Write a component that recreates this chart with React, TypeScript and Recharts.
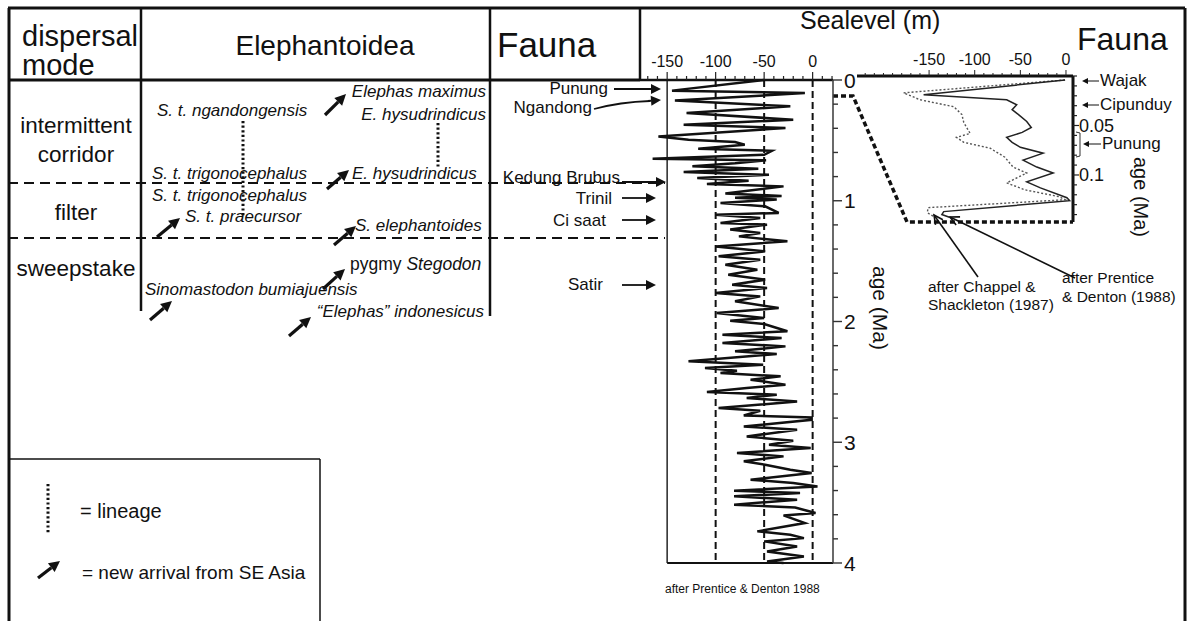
import React from "react"
import { ScatterChart, Scatter, XAxis, YAxis, ReferenceLine } from "recharts"

const FONT = '"Liberation Sans", Arial, Helvetica, sans-serif'

// main curve (after Prentice & Denton 1988): age in Ma, sea level in m
const MAIN_AGE = [
  0, 0.088, 0.108, 0.17, 0.218, 0.273, 0.329, 0.37, 0.398, 0.467,
  0.494, 0.514, 0.536, 0.569, 0.586, 0.62, 0.652, 0.664, 0.69, 0.715,
  0.735, 0.762, 0.785, 0.812, 0.834, 0.862, 0.881, 0.94, 0.96, 0.975, 0.99,
  1.018, 1.046, 1.101, 1.115, 1.143, 1.184, 1.198, 1.239, 1.267, 1.295,
  1.336, 1.378, 1.419, 1.46, 1.488, 1.53, 1.571, 1.612, 1.654, 1.695,
  1.723, 1.764, 1.792, 1.833, 1.889, 1.93, 1.971,
  1.993, 2.021, 2.081, 2.109, 2.137, 2.178, 2.206, 2.247, 2.269, 2.33,
  2.358, 2.385, 2.407, 2.427, 2.454, 2.482, 2.523, 2.551, 2.584, 2.606,
  2.634, 2.662, 2.717, 2.739, 2.778, 2.794, 2.814, 2.869, 2.896, 2.952, 2.988,
  3.02, 3.048, 3.089, 3.117, 3.158, 3.186, 3.227, 3.255, 3.31, 3.338,
  3.366, 3.401, 3.421, 3.448, 3.476, 3.517, 3.54, 3.586, 3.606, 3.669,
  3.738, 3.766, 3.794, 3.821, 3.863, 3.904, 3.946, 3.987, 4.0,
]
const MAIN_SEALEVEL = [
  -50, -145, -8, -142, -23, -130, -20, -133, -28, -159,
  -128, -80, -70, -118, -42, -50, -165, -48, -80, -124,
  -56, -133, -45, -119, -66, -109, -30, -90, -32, -80, -37,
  -95, -49, -35, -100, -54, -95, -47, -85, -54, -76,
  -26, -100, -49, -97, -54, -90, -57, -87, -49, -83,
  -47, -100, -54, -80, -35, -99, -50,
  -85, -50, -26, -93, -32, -93, -28, -80, -37, -128,
  -51, -111, -78, -95, -33, -64, -28, -68, -109, -37,
  -68, -16, -97, -54, -71, -1, -1, -71, -16, -68, -20,
  -45, -2, -78, -30, -71, -49, -23, -1, -64, -20,
  5, -81, -13, -81, -16, -81, -18, 3, -30, -8,
  -57, -23, -9, -50, -16, -47, -9, -47, -30,
]

// inset, last glacial cycle: solid = Prentice & Denton (1988)
const INSET_PD_AGE = [
  0.004, 0.019, 0.024, 0.029, 0.034, 0.039, 0.046, 0.052, 0.057, 0.062, 0.067, 0.072,
  0.078, 0.085, 0.092, 0.098, 0.107, 0.113, 0.123, 0.126, 0.137, 0.14, 0.143,
]
const INSET_PD_SEALEVEL = [
  -1, -156, -65, -54, -59, -52, -43, -38, -48, -65, -59, -50,
  -25, -47, -32, -14, -43, -28, 1, 4, -134, -136, -127,
]
// dotted = Chappel & Shackleton (1987)
const INSET_CS_AGE = [
  0.004, 0.017, 0.024, 0.031, 0.039, 0.047, 0.058, 0.062, 0.067, 0.073,
  0.082, 0.092, 0.098, 0.108, 0.115, 0.122, 0.125, 0.133, 0.138, 0.142,
]
const INSET_CS_SEALEVEL = [
  -1, -178, -160, -123, -114, -112, -105, -120, -112, -83,
  -67, -58, -43, -65, -45, -7, -1, -151, -152, -145,
]

const MAIN_X_TICKS = [-170, -160, -150, -140, -130, -120, -110, -100, -90, -80, -70, -60, -50, -40, -30, -20, -10, 0, 10, 20]
const MAIN_X_LABELS = [-150, -100, -50, 0]
const MAIN_Y_TICKS = [0, 0.2, 0.4, 0.6, 0.8, 1, 1.2, 1.4, 1.6, 1.8, 2, 2.2, 2.4, 2.6, 2.8, 3, 3.2, 3.4, 3.6, 3.8, 4]
const INSET_X_TICKS = [-220, -210, -200, -190, -180, -170, -160, -150, -140, -130, -120, -110, -100, -90, -80, -70, -60, -50, -40, -30, -20, -10, 0]
const INSET_X_LABELS = [-150, -100, -50, 0]
const INSET_Y_TICKS = [0, 0.01, 0.02, 0.03, 0.04, 0.05, 0.06, 0.07, 0.08, 0.09, 0.1, 0.11, 0.12, 0.13, 0.14]
const INSET_Y_LABELS = [0.05, 0.1]

const mainData = MAIN_AGE.map((age, i) => ({ age, sl: MAIN_SEALEVEL[i] }))
const pdData = INSET_PD_AGE.map((age, i) => ({ age, sl: INSET_PD_SEALEVEL[i] }))
const csData = INSET_CS_AGE.map((age, i) => ({ age, sl: INSET_CS_SEALEVEL[i] }))

const isIn = (list: number[], v: number) => list.some((l) => Math.abs(l - v) < 1e-6)
const noDot = () => <g />

function MainXTick({ x, y, payload }: any) {
  const major = isIn(MAIN_X_LABELS, payload.value)
  return (
    <g>
      <line x1={x} x2={x} y1={y} y2={y - (major ? 8 : 4)} stroke="#222" strokeWidth={1.2} />
      {major && (
        <text x={x} y={y - 13} textAnchor="middle" fontSize={16} fontFamily={FONT} fill="#111">
          {payload.value}
        </text>
      )}
    </g>
  )
}

function MainYTick({ x, y, payload }: any) {
  const major = Math.abs(payload.value - Math.round(payload.value)) < 1e-6
  return (
    <g>
      <line x1={x} x2={x + (major ? 9 : 5)} y1={y} y2={y} stroke="#333" strokeWidth={1.4} />
      {major && (
        <text x={x + 11} y={y} dy="0.36em" fontSize={21} fontFamily={FONT} fill="#111">
          {payload.value}
        </text>
      )}
    </g>
  )
}

function InsetXTick({ x, y, payload }: any) {
  const major = isIn(INSET_X_LABELS, payload.value)
  return (
    <g>
      <line x1={x} x2={x} y1={y} y2={y - (major ? 6 : 3)} stroke="#222" strokeWidth={1} />
      {major && (
        <text x={x} y={y - 11} textAnchor="middle" fontSize={16} fontFamily={FONT} fill="#111">
          {payload.value}
        </text>
      )}
    </g>
  )
}

function InsetYTick({ x, y, payload }: any) {
  const major = isIn(INSET_Y_LABELS, payload.value)
  return (
    <g>
      <line x1={x} x2={x + (major ? 6 : 4)} y1={y} y2={y} stroke="#222" strokeWidth={1.2} />
      {major && (
        <text x={x + 6} y={y} dy="0.36em" fontSize={18} fontFamily={FONT} fill="#111">
          {payload.value}
        </text>
      )}
    </g>
  )
}

function Arrow({ x1, y1, x2, y2, w = 3.2, head = 11, open = false }: any) {
  const a = Math.atan2(y2 - y1, x2 - x1)
  const bx = x2 - head * Math.cos(a)
  const by = y2 - head * Math.sin(a)
  const hw = head * 0.5
  const lx = bx - hw * Math.sin(a)
  const ly = by + hw * Math.cos(a)
  const rx = bx + hw * Math.sin(a)
  const ry = by - hw * Math.cos(a)
  if (open) {
    return (
      <g stroke="#111" strokeWidth={w} fill="none">
        <line x1={x1} y1={y1} x2={x2} y2={y2} />
        <polyline points={`${lx},${ly} ${x2},${y2} ${rx},${ry}`} />
      </g>
    )
  }
  return (
    <g>
      <line x1={x1} y1={y1} x2={bx} y2={by} stroke="#111" strokeWidth={w} />
      <polygon points={`${x2},${y2} ${lx},${ly} ${rx},${ry}`} fill="#111" />
    </g>
  )
}

function Species({ x, y, anchor = "start", children }: any) {
  return (
    <text x={x} y={y} textAnchor={anchor} fontSize={17} fontStyle="italic" fontFamily={FONT} fill="#111">
      {children}
    </text>
  )
}

function FaunaLabel({ x, y, children, size = 17 }: any) {
  return (
    <text x={x} y={y} textAnchor="end" fontSize={size} fontFamily={FONT} fill="#111">
      {children}
    </text>
  )
}

function Overlay() {
  const dashed = { stroke: "#111", strokeWidth: 1.8, strokeDasharray: "10 6" }
  return (
    <svg width={1189} height={621} style={{ position: "absolute", left: 0, top: 0 }} fontFamily={FONT}>
      {/* frame and columns */}
      <g stroke="#111" fill="none">
        <line x1={8} y1={8} x2={1185} y2={8} strokeWidth={3} />
        <line x1={9} y1={8} x2={9} y2={621} strokeWidth={3} />
        <line x1={1185} y1={8} x2={1185} y2={621} strokeWidth={3} />
        <line x1={8} y1={80} x2={640} y2={80} strokeWidth={3} />
        <line x1={141} y1={8} x2={141} y2={311} strokeWidth={2.5} />
        <line x1={490} y1={8} x2={490} y2={316} strokeWidth={2.5} />
        <line x1={640} y1={8} x2={640} y2={80} strokeWidth={2.5} />
        <line x1={8} y1={183} x2={665} y2={183} {...dashed} />
        <line x1={8} y1={238} x2={665} y2={238} {...dashed} />
        <line x1={8} y1={459} x2={320} y2={459} strokeWidth={1.5} />
        <line x1={320} y1={459} x2={320} y2={621} strokeWidth={1.5} />
      </g>

      {/* headers */}
      <text x={22} y={46} fontSize={29} fill="#111">dispersal</text>
      <text x={22} y={75} fontSize={29} fill="#111">mode</text>
      <text x={325} y={55} fontSize={28} textAnchor="middle" fill="#111">Elephantoidea</text>
      <text x={497} y={57} fontSize={35} fill="#111">Fauna</text>
      <text x={800} y={29} fontSize={25} fill="#111">Sealevel (m)</text>
      <text x={1077} y={50} fontSize={32} fill="#111">Fauna</text>

      {/* dispersal modes */}
      <g fontSize={22.5} fill="#111" textAnchor="middle">
        <text x={76} y={133}>intermittent</text>
        <text x={76} y={162}>corridor</text>
        <text x={76} y={220}>filter</text>
        <text x={76} y={276}>sweepstake</text>
      </g>

      {/* Elephantoidea */}
      <Species x={486} y={97} anchor="end">Elephas maximus</Species>
      <Species x={157} y={116}>S. t. ngandongensis</Species>
      <Species x={486} y={120} anchor="end">E. hysudrindicus</Species>
      <Species x={152} y={179}>S. t. trigonocephalus</Species>
      <Species x={352} y={179}>E. hysudrindicus</Species>
      <Species x={152} y={201}>S. t. trigonocephalus</Species>
      <Species x={185} y={222}>S. t. praecursor</Species>
      <Species x={355} y={231}>S. elephantoides</Species>
      <text x={350} y={270} fontSize={17.5} fontFamily={FONT} fill="#111">
        pygmy <tspan fontStyle="italic">Stegodon</tspan>
      </text>
      <Species x={145} y={295}>Sinomastodon bumiajuensis</Species>
      <Species x={484} y={317} anchor="end">“Elephas” indonesicus</Species>

      {/* lineages */}
      <g stroke="#111" strokeWidth={3} strokeDasharray="2.2 2.4">
        <line x1={243} y1={121} x2={243} y2={216} />
        <line x1={438} y1={123} x2={438} y2={168} />
        <line x1={48} y1={484} x2={48} y2={534} />
      </g>

      {/* new arrivals */}
      <Arrow x1={325} y1={115} x2={346} y2={94} />
      <Arrow x1={327} y1={189} x2={349} y2={170} />
      <Arrow x1={157} y1={237} x2={180} y2={218} />
      <Arrow x1={334} y1={245} x2={356} y2={226} />
      <Arrow x1={323} y1={289} x2={345} y2={269} />
      <Arrow x1={150} y1={320} x2={172} y2={301} />
      <Arrow x1={289} y1={336} x2={311} y2={317} />
      <Arrow x1={38} y1={578} x2={60} y2={561} />

      {/* legend */}
      <text x={80} y={518} fontSize={20} fill="#111">= lineage</text>
      <text x={82} y={579} fontSize={19} fill="#111">= new arrival from SE Asia</text>

      {/* fauna, main column */}
      <FaunaLabel x={608} y={94}>Punung</FaunaLabel>
      <Arrow x1={614} y1={89} x2={661} y2={89} w={1.8} head={10} />
      <FaunaLabel x={592} y={113}>Ngandong</FaunaLabel>
      <path d="M594 109 Q620 102 650 101" stroke="#111" strokeWidth={1.8} fill="none" />
      <Arrow x1={648} y1={101} x2={661} y2={100} w={1.8} head={10} />
      <FaunaLabel x={620} y={183}>Kedung Brubus</FaunaLabel>
      <Arrow x1={622} y1={182} x2={666} y2={182} w={1.8} head={10} />
      <FaunaLabel x={612} y={204}>Trinil</FaunaLabel>
      <Arrow x1={622} y1={198} x2={656} y2={198} w={1.8} head={10} />
      <FaunaLabel x={606} y={226}>Ci saat</FaunaLabel>
      <Arrow x1={622} y1={220} x2={656} y2={220} w={1.8} head={10} />
      <FaunaLabel x={603} y={290}>Satir</FaunaLabel>
      <Arrow x1={622} y1={285} x2={656} y2={285} w={1.8} head={10} />

      <text x={873} y={308} fontSize={21} fill="#111" textAnchor="middle" transform="rotate(90 873 308)">age (Ma)</text>
      <text x={665} y={593} fontSize={12} fill="#111">after Prentice &amp; Denton 1988</text>

      {/* connector to inset */}
      <polyline points="833,96 853,96 907,222 1073,222" stroke="#111" strokeWidth={3.5} strokeDasharray="5 3" fill="none" />

      {/* inset fauna */}
      <text x={1100} y={86} fontSize={17} fill="#111">Wajak</text>
      <Arrow x1={1099} y1={81} x2={1082} y2={81} w={1} head={6} />
      <text x={1100} y={110} fontSize={17} fill="#111">Cipunduy</text>
      <Arrow x1={1099} y1={105} x2={1082} y2={105} w={1} head={6} />
      <text x={1102} y={149} fontSize={17} fill="#111">Punung</text>
      <Arrow x1={1101} y1={144} x2={1083} y2={144} w={1} head={6} />
      <path d="M1076 132 L1080 133 L1080 156 L1076 157" stroke="#333" strokeWidth={1} fill="none" />
      <text x={1134} y={197} fontSize={20} fill="#111" textAnchor="middle" transform="rotate(90 1134 197)">age (Ma)</text>

      {/* inset sources */}
      <Arrow x1={978} y1={277} x2={934} y2={215} w={1.6} head={9} open />
      <Arrow x1={1075} y1={278} x2={950} y2={217} w={1.6} head={9} open />
      <text x={928} y={292} fontSize={15.5} fill="#111">after Chappel &amp;</text>
      <text x={928} y={310} fontSize={15.5} fill="#111">Shackleton (1987)</text>
      <text x={1062} y={283} fontSize={15.5} fill="#111">after Prentice</text>
      <text x={1062} y={302} fontSize={15.5} fill="#111">&amp; Denton (1988)</text>
    </svg>
  )
}

function MainCurve() {
  return (
    <div style={{ position: "absolute", left: 600, top: 30 }}>
      <ScatterChart width={300} height={560} margin={{ top: 20, right: 27, bottom: 27, left: 40 }}>
        <XAxis
          dataKey="sl"
          type="number"
          orientation="top"
          domain={[-178, 21]}
          ticks={MAIN_X_TICKS}
          interval={0}
          height={30}
          tickSize={0}
          tickMargin={0}
          tickLine={false}
          tick={<MainXTick />}
          axisLine={{ stroke: "#111", strokeWidth: 2.5 }}
        />
        <YAxis
          dataKey="age"
          type="number"
          orientation="right"
          domain={[0, 4]}
          reversed
          ticks={MAIN_Y_TICKS}
          interval={0}
          width={40}
          tickSize={0}
          tickMargin={0}
          tickLine={false}
          tick={<MainYTick />}
          axisLine={{ stroke: "#444", strokeWidth: 1.6 }}
        />
        <ReferenceLine x={-150} stroke="#333" strokeWidth={1.6} />
        <ReferenceLine x={-100} stroke="#111" strokeWidth={2} strokeDasharray="7 4" />
        <ReferenceLine x={-50} stroke="#111" strokeWidth={2} strokeDasharray="7 4" />
        <ReferenceLine x={0} stroke="#111" strokeWidth={2} strokeDasharray="7 4" />
        <ReferenceLine segment={[{ x: -150, y: 4 }, { x: 21, y: 4 }]} stroke="#111" strokeWidth={2} />
        <Scatter
          data={mainData}
          fill="#111"
          line={{ stroke: "#111", strokeWidth: 2.5 }}
          lineType="joint"
          shape={noDot}
          isAnimationActive={false}
        />
      </ScatterChart>
    </div>
  )
}

function InsetCurve() {
  return (
    <div style={{ position: "absolute", left: 840, top: 20 }}>
      <ScatterChart width={340} height={230} margin={{ top: 20, right: 67, bottom: 28, left: 17 }}>
        <XAxis
          dataKey="sl"
          type="number"
          orientation="top"
          domain={[-229, 7.7]}
          ticks={INSET_X_TICKS}
          interval={0}
          height={36}
          tickSize={0}
          tickMargin={0}
          tickLine={false}
          tick={<InsetXTick />}
          axisLine={{ stroke: "#111", strokeWidth: 3 }}
        />
        <YAxis
          dataKey="age"
          type="number"
          orientation="right"
          domain={[0, 0.1475]}
          reversed
          ticks={INSET_Y_TICKS}
          interval={0}
          width={40}
          tickSize={0}
          tickMargin={0}
          tickLine={false}
          tick={<InsetYTick />}
          axisLine={{ stroke: "#111", strokeWidth: 3 }}
        />
        <Scatter
          data={csData}
          fill="#555"
          line={{ stroke: "#555", strokeWidth: 1.4, strokeDasharray: "2 2" }}
          lineType="joint"
          shape={noDot}
          isAnimationActive={false}
        />
        <Scatter
          data={pdData}
          fill="#222"
          line={{ stroke: "#222", strokeWidth: 1.5 }}
          lineType="joint"
          shape={noDot}
          isAnimationActive={false}
        />
      </ScatterChart>
    </div>
  )
}

export default function App() {
  return (
    <div style={{ position: "absolute", left: 0, top: 0, width: 1189, height: 621, background: "#fff", fontFamily: FONT, overflow: "hidden" }}>
      <Overlay />
      <MainCurve />
      <InsetCurve />
    </div>
  )
}
